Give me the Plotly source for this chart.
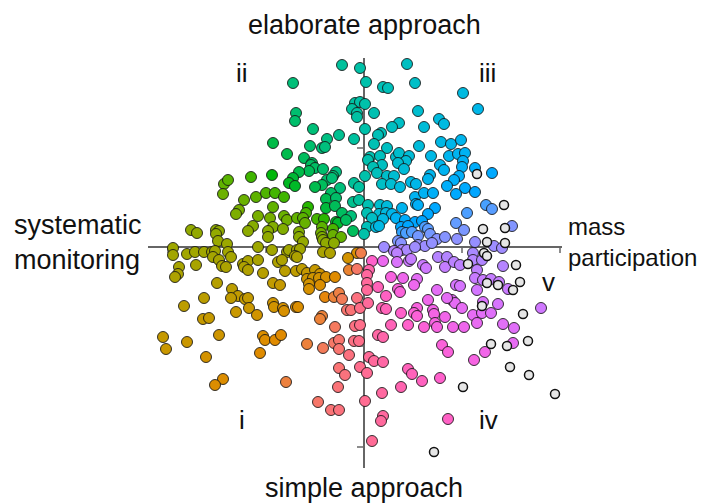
import math
import numpy as np
import plotly.graph_objects as go

# Respondent scores (two dimensions, x: systematic monitoring <-> mass participation,
# y: simple approach <-> elaborate approach), coloured by direction
X_COLORED = [
    -140, -136, -113, -141,
    -22, -4, -71, -68, -69, -9, -4, -12, -7, -7, -51, -91, -54, -37, -42, -39, -25, -10, -77, -60, -52, -53, -49, -41, -55, -65, -28, -31, -92, -71, -75, -69, -37, -32, -42, -49, -24, -10, -5,
    43, 51, 99, 2, 19, 24, 1, 10, 54, 75, 80, 60, 35, 28, 1, 17, 14, 10, 23, 55, 77, 87, 97, 6, 16, 4, 32, 35, 45, 42, 34, 67, 85, 94, 101, 99, 98, 18, 9, 13, 40, 76, 80, 23, 30, 66, 64, 95, 90, 47, 52, 18, 27, 36, 83, 101, 1,
    114, 111, 128,
    -120, -108, -125, -128, -111, -116, -106, -173, -167, -148, -145, -148, -146, -137, -191, -191, -177, -169, -160, -152, -149, -151, -136, -133, -145, -142, -138, -168, -185, -186, -189, -121, -116, -120, -116, -106, -106, -147, -132, -126, -133, -119, -116, -160, -115, -180, -128, -161, -155, -107,
    -98, -89, -80, -33, -38, -28, -11, -5, -91, -56, -38, -29, -22, -13, -58, -94, -80, -77, -67, -61, -59, -47, -40, -28, -26, -18, -91, -96, -81, -65, -42, -43, -31, -11, -96, -65, -61, -42, -41, -31, -23, -38, -30, -92, -77, -75, -67, -64, -41, -34, -7, -3, -86, -82, -69, -67, -16, -79, -68, -62, -101, -57, -49, -44, -57, -51, -45, -38, -29, -15, -7, -91, -84, -55, -44, -55, -39, -30, -25, -22, -7, -91, -90, -81, -68, -66, -80, -17, -13, -4, -42, -44, -29, -9, -4,
    4, 16, 23, 51, 60, 69, 92, 52, 54, 71, 38, 3, 15, 22, 28, 64, 103, 8, 19, 32, 41, 51, 58, 3, 12, 15, 37, 44, 61, 64, 92, 100, 0, 38, 42, 48, 54, 66, 73, 81, 93, 34, 37, 54, 61, 68, 20, 30, 38, 43, 33, 51, 8, 19, 33, 45, 47, 59, 62, 74, 83, 81, 90, 96, 5, 3, 3, 27, 39, 53, 50, 14, 3, 34, 36, 22, 73, 92, 96, 4, 64, 88, 91, 83, 18, 22, 37, 53, 50, 53, 69, 70, 98, 81, 27, 44, 60, 71, 73, 89, 100,
    111, 122, 128, 148, 111, 130, 138, 109, 109, 118, 113, 139, 111, 119, 127, 135, 144, 113, 119, 134, 109, 118, 127, 177, 113, 139, 150,
    -201, -198, -177, -145, -158, -141, -149, -104,
    -101, -99, -89, -83, -57, -41, -30, -25, -10, -5, -25, -15, -4, -25, -19, -26, -78, -46, -33, -25, 1,
    14, 19, 78, 84, 5, 10, 19, 3, 44, 48, 58, 76, 37, 18, 19, 17, 84, 8,
    110, 121, 149,
]
Y_COLORED = [
    63, 67, 70, 53,
    182, 179, 164, 134, 126, 144, 145, 138, 134, 130, 118, 104, 101, 108, 99, 100, 112, 108, 93, 89, 84, 82, 79, 78, 76, 75, 75, 71, 72, 69, 64, 61, 67, 69, 62, 60, 59, 64, 60,
    183, 164, 154, 165, 160, 159, 143, 134, 136, 128, 123, 120, 124, 120, 118, 114, 112, 103, 99, 101, 105, 103, 107, 90, 91, 87, 90, 94, 91, 86, 84, 91, 91, 93, 94, 86, 80, 82, 80, 74, 78, 82, 77, 71, 71, 72, 68, 71, 67, 65, 63, 63, 63, 60, 61, 59, 71,
    138, 79, 74,
    47, 50, 37, 33, 21, 16, 31, 17, 14, 17, 16, 13, 6, 3, -1, -8, -7, -5, -5, -5, -4, -10, -5, -10, -13, -19, -20, -18, -20, -27, -30, -17, -14, -20, -23, -13, 0, -36, -42, -49, -51, -52, -51, -51, -61, -59, -65, -72, -71, -68,
    54, 54, 50, 54, 48, 49, 45, 47, 40, 40, 39, 41, 34, 31, 34, 29, 31, 27, 29, 29, 24, 28, 28, 25, 24, 27, 20, 16, 18, 15, 20, 14, 18, 16, 10, 10, 5, 10, 7, 12, 10, 4, 4, -3, -5, -3, -3, -2, -5, -6, -6, -6, -15, -13, -9, -10, -11, -24, -24, -22, -26, -26, -23, -27, -32, -31, -31, -30, -30, -23, -22, -36, -38, -37, -38, -42, -50, -50, -46, -52, -51, -56, -60, -61, -60, -60, -64, -63, -63, -61, -69, -72, -80, -79, -78,
    42, 42, 41, 50, 54, 54, 53, 43, 42, 39, 39, 34, 33, 34, 33, 33, 34, 29, 28, 29, 27, 25, 26, 20, 20, 21, 20, 21, 20, 18, 24, 17, 13, 15, 14, 15, 11, 13, 8, 10, 8, 6, 4, 2, 1, 4, 0, -4, -3, -3, -6, 0, -14, -14, -15, -14, -12, -18, -21, -10, -10, -20, -15, -18, -23, -28, -36, -30, -31, -32, -38, -40, -43, -42, -45, -49, -43, -38, -39, -56, -53, -53, -56, -51, -61, -62, -66, -61, -66, -69, -63, -67, -61, -70, -78, -78, -80, -76, -80, -80, -80,
    55, 42, 38, 21, 5, 1, -1, -6, -13, -13, -23, -19, -31, -33, -32, -35, -42, -43, -55, -57, -68, -66, -66, -61, -76, -77, -81,
    -90, -102, -95, -88, -110, -132, -138, -106,
    -89, -93, -93, -88, -97, -101, -96, -93, -94, -94, -102, -108, -120, -121, -128, -140, -135, -155, -163, -163, -154,
    -88, -90, -98, -105, -110, -114, -115, -126, -122, -127, -134, -131, -140, -146, -169, -174, -172, -194,
    -113, -105, -96,
]

# Unassigned respondents (hollow markers)
X_OTHER = [113, 140, 141, 119, 123, 141, 120, 123, 152, 104, 123, 134, 149, 156, 118, 159, 99, 70, 127, 143, 164, 146, 165, 191]
Y_OTHER = [73, 42, 19, 18, 5, 4, -6, -9, -18, -17, -36, -38, -43, -35, -59, -67, -140, -205, -97, -99, -94, -120, -128, -147]

X_TICKS = [-196, -98, 98, 196]
Y_TICKS = [99, -99, -200]

AXIS_LABELS = ["elaborate approach", "simple approach", "systematic<br>monitoring", "mass<br>participation"]
AXIS_LABEL_X = [0.522, 0.522, -0.326, 1.012]
AXIS_LABEL_Y = [1.1195, -0.049, 0.551, 0.551]
AXIS_LABEL_XANCHOR = ["center", "center", "left", "left"]
AXIS_LABEL_YANCHOR = ["top", "middle", "middle", "middle"]
AXIS_LABEL_SIZE = [27, 27, 27, 24]

QUADRANTS = ["ii", "iii", "i", "iv", "v"]
QUAD_POS_X = [-122, 123, -122, 124, 184]
QUAD_POS_Y = [174, 174, -173, -173, -35]


def hcl_to_hex(h, c=100.0, l=65.0):
    hr = math.radians(h)
    u = c * math.cos(hr)
    v = c * math.sin(hr)
    Xn, Yn, Zn = 95.047, 100.0, 108.883
    den = Xn + 15 * Yn + 3 * Zn
    un = 4 * Xn / den
    vn = 9 * Yn / den
    Y = Yn * ((l + 16) / 116) ** 3 if l > 8 else Yn * l / 903.3
    up = u / (13 * l) + un
    vp = v / (13 * l) + vn
    X = Y * 9 * up / (4 * vp)
    Z = Y * (12 - 3 * up - 20 * vp) / (4 * vp)
    X, Y, Z = X / 100, Y / 100, Z / 100
    r = 3.2404542 * X - 1.5371385 * Y - 0.4985314 * Z
    g = -0.9692660 * X + 1.8760108 * Y + 0.0415560 * Z
    b = 0.0556434 * X - 0.2040259 * Y + 1.0572252 * Z

    def gam(t):
        t = 1.055 * t ** (1 / 2.4) - 0.055 if t > 0.0031308 else 12.92 * t
        return int(round(255 * min(1, max(0, t))))

    return "#%02x%02x%02x" % (gam(r), gam(g), gam(b))


xc = np.array(X_COLORED)
yc = np.array(Y_COLORED)
angles = np.degrees(np.arctan2(yc, xc)) % 360
colors = [hcl_to_hex((270 - a) % 360) for a in angles]

fig = go.Figure()
fig.add_trace(go.Scatter(
    x=xc, y=yc, mode="markers",
    marker=dict(size=11, color=colors, line=dict(color="rgba(20,20,20,0.85)", width=1)),
    hoverinfo="skip", showlegend=False, cliponaxis=False,
))
fig.add_trace(go.Scatter(
    x=X_OTHER, y=Y_OTHER, mode="markers",
    marker=dict(size=9, color="#e6e6e6", line=dict(color="#111111", width=1.5)),
    hoverinfo="skip", showlegend=False, cliponaxis=False,
))

shapes = []
for t in X_TICKS:
    shapes.append(dict(type="line", xref="x", yref="y", x0=t, x1=t, y0=0, y1=-6,
                       line=dict(color="#666666", width=1.5), layer="below"))
for t in Y_TICKS:
    shapes.append(dict(type="line", xref="x", yref="y", x0=0, x1=-7, y0=t, y1=t,
                       line=dict(color="#666666", width=1.5), layer="below"))

FAMILY = "Liberation Sans, Arial, sans-serif"
QFONT = dict(family=FAMILY, size=26, color="#111111")
annotations = []
for txt, ax, ay, xa, ya, fs in zip(AXIS_LABELS, AXIS_LABEL_X, AXIS_LABEL_Y,
                                   AXIS_LABEL_XANCHOR, AXIS_LABEL_YANCHOR, AXIS_LABEL_SIZE):
    annotations.append(dict(text=txt, x=ax, y=ay, xref="paper", yref="paper",
                            xanchor=xa, yanchor=ya, align="left", borderpad=0,
                            showarrow=False, font=dict(family=FAMILY, size=fs, color="#111111")))
for txt, qx, qy in zip(QUADRANTS, QUAD_POS_X, QUAD_POS_Y):
    annotations.append(dict(text=txt, x=qx, y=qy, xref="x", yref="y", xanchor="center",
                            yanchor="middle", showarrow=False, font=QFONT))

# the page body adds an 8px offset, so margins are shifted accordingly
fig.update_layout(
    width=715, height=503,
    margin=dict(l=140, r=161, t=50, b=43),
    paper_bgcolor="white", plot_bgcolor="white",
    xaxis=dict(range=[-216, 198], showgrid=False, showticklabels=False, ticks="",
               zeroline=True, zerolinecolor="#666666", zerolinewidth=1.5, showline=False, fixedrange=True),
    yaxis=dict(range=[-221, 189], showgrid=False, showticklabels=False, ticks="",
               zeroline=True, zerolinecolor="#666666", zerolinewidth=1.5, showline=False, fixedrange=True),
    shapes=shapes,
    annotations=annotations,
)

fig.write_html("out.html")
